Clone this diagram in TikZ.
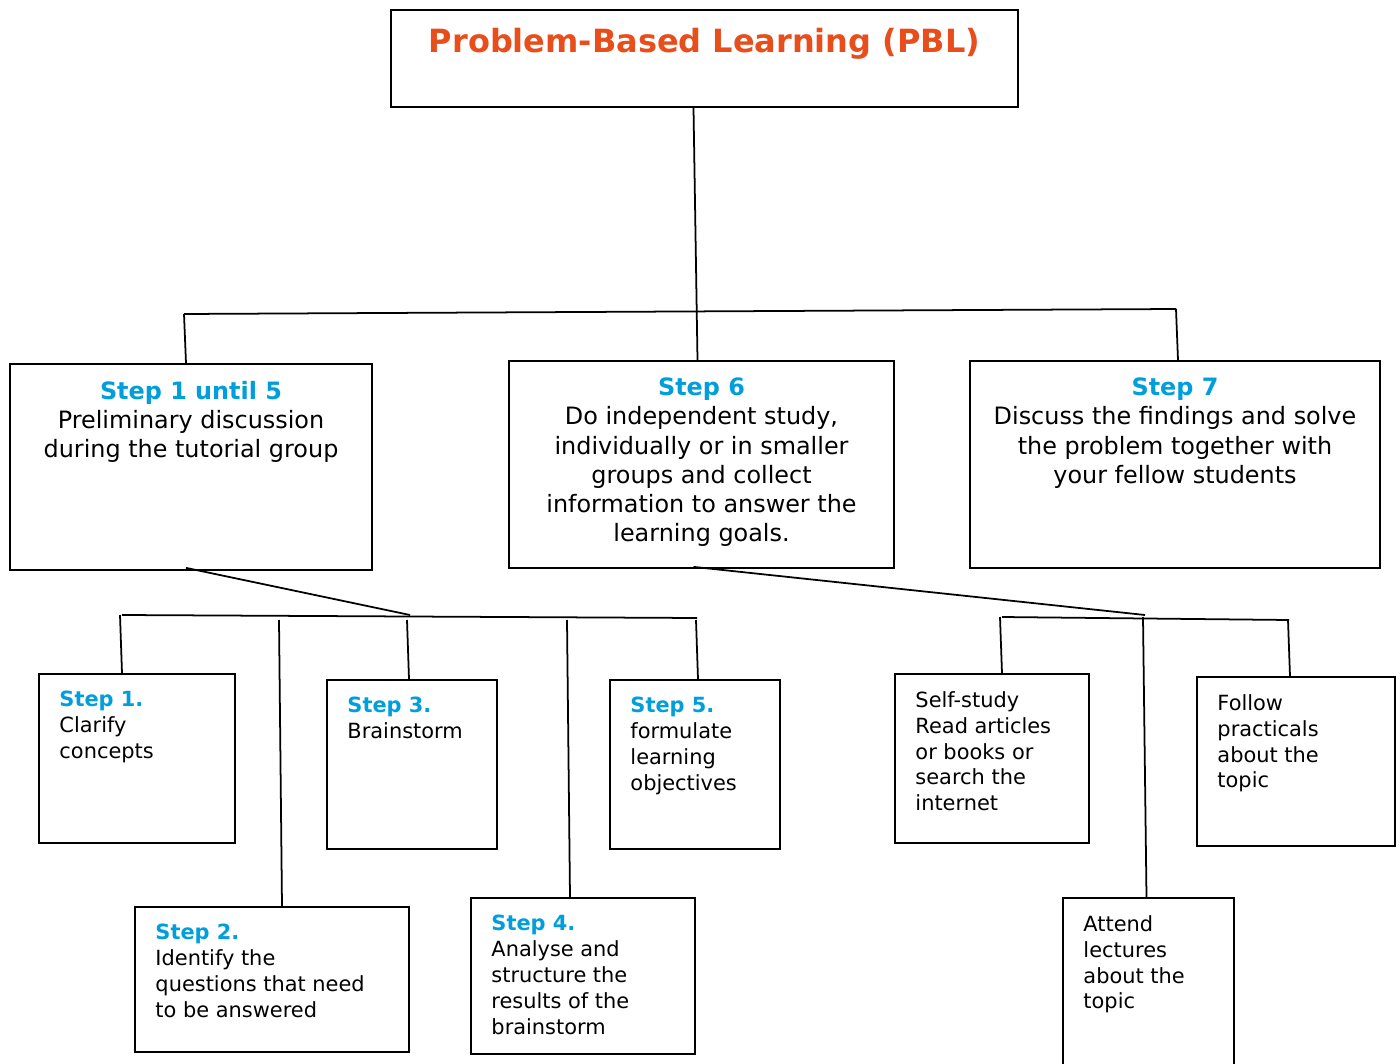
\documentclass[tikz,border=0pt]{standalone}
\usepackage{fontspec}
\setmainfont{DejaVu Sans}
\usetikzlibrary{fit}
\definecolor{pblorange}{RGB}{232,78,27}
\definecolor{stepblue}{RGB}{0,158,219}
\tikzset{
	box/.style={draw=black, line width=1pt, inner sep=0pt},
	link/.style={line width=1pt},
	titletxt/.style={inner sep=0pt, text=pblorange, font=\fontsize{18.2}{21}\selectfont\bfseries},
	bigtxt/.style={inner sep=0pt, align=center, font=\fontsize{13.6}{16.6}\selectfont},
	smalltxt/.style={inner sep=0pt, align=left, font=\fontsize{11.9}{14.7}\selectfont},
}
\newcommand{\stepname}[1]{\textcolor{stepblue}{\bfseries #1}}

\begin{document}
\begin{tikzpicture}[x=0.02cm, y=-0.02cm]
		%%%%% START %%%%%
		\useasboundingbox (0,0) rectangle (1400,1064);
		\clip (0,0) rectangle (1400,1064);
		
		% top
		\node[box, fit={(391,10) (1018,107)}] (pbl) {};
		\node[titletxt, anchor=north] (pbltitle) at ([shift={(0,19)}]pbl.north) {Problem-Based Learning (PBL)};
		
		% three main steps
		\node[box, fit={(10,364) (372,570)}] (s15) {};
		\node[bigtxt, anchor=north] (s15txt) at ([shift={(0,17.5)}]s15.north) {\stepname{Step 1 until 5}\\Preliminary discussion\\during the tutorial group};
		
		\node[box, fit={(509,361) (894,568)}] (s6) {};
		\node[bigtxt, anchor=north] (s6txt) at ([shift={(0,17.5)}]s6.north) {\stepname{Step 6}\\Do independent study,\\individually or in smaller\\groups and collect\\information to answer the\\learning goals.};
		
		\node[box, fit={(970,361) (1380,568)}] (s7) {};
		\node[bigtxt, anchor=north] (s7txt) at ([shift={(0,17.5)}]s7.north) {\stepname{Step 7}\\Discuss the findings and solve\\the problem together with\\your fellow students};
		
		% steps 1 to 5
		\node[box, fit={(39,674) (235,843)}] (st1) {};
		\node[smalltxt, anchor=north west] (st1txt) at ([shift={(21,18)}]st1.north west) {\stepname{Step 1.}\\Clarify\\concepts};
		
		\node[box, fit={(135,907) (409,1052)}] (st2) {};
		\node[smalltxt, anchor=north west] (st2txt) at ([shift={(21,18)}]st2.north west) {\stepname{Step 2.}\\Identify the\\questions that need\\to be answered};
		
		\node[box, fit={(327,680) (497,849)}] (st3) {};
		\node[smalltxt, anchor=north west] (st3txt) at ([shift={(21,18)}]st3.north west) {\stepname{Step 3.}\\Brainstorm};
		
		\node[box, fit={(471,898) (695,1054)}] (st4) {};
		\node[smalltxt, anchor=north west] (st4txt) at ([shift={(21,18)}]st4.north west) {\stepname{Step 4.}\\Analyse and\\structure the\\results of the\\brainstorm};
		
		\node[box, fit={(610,680) (780,849)}] (st5) {};
		\node[smalltxt, anchor=north west] (st5txt) at ([shift={(21,18)}]st5.north west) {\stepname{Step 5.}\\formulate\\learning\\objectives};
		
		% self study
		\node[box, fit={(895,674) (1089,843)}] (self) {};
		\node[smalltxt, anchor=north west] (selftxt) at ([shift={(21,18)}]self.north west) {Self-study\\Read articles\\or books or\\search the\\internet};
		
		\node[box, fit={(1063,898) (1234,1090)}] (lect) {};
		\node[smalltxt, anchor=north west] (lecttxt) at ([shift={(21,18)}]lect.north west) {Attend\\lectures\\about the\\topic};
		
		\node[box, fit={(1197,677) (1395,846)}] (prac) {};
		\node[smalltxt, anchor=north west] (practxt) at ([shift={(21,18)}]prac.north west) {Follow\\practicals\\about the\\topic};
		
		% connectors, level 1
		\coordinate (barL) at (184,314);
		\coordinate (barR) at (1176,309);
		\draw[link] ([shift={(-11,0)}]pbl.south) -- ([shift={(-4,0)}]s6.north);
		\draw[link] (barL) -- (barR);
		\draw[link] (barL) -- ([shift={(-5,0)}]s15.north);
		\draw[link] (barR) -- ([shift={(3,0)}]s7.north);
		
		% connectors, steps 1 to 5
		\coordinate (joinA) at (410,615);
		\coordinate (barAL) at (122,615);
		\coordinate (barAR) at (697,618);
		\draw[link] ([shift={(-5,-3)}]s15.south) -- (joinA);
		\draw[link] (barAL) -- (barAR);
		\draw[link] (120,615) -- ([shift={(-15,0)}]st1.north);
		\draw[link] (279,620) -- ([shift={(10,0)}]st2.north);
		\draw[link] (407,620) -- ([shift={(-3,0)}]st3.north);
		\draw[link] (567,620) -- ([shift={(-13,0)}]st4.north);
		\draw[link] (696,620) -- ([shift={(3,0)}]st5.north);
		
		% connectors, self study
		\coordinate (joinB) at (1145,615);
		\coordinate (barBL) at (1002,617);
		\coordinate (barBR) at (1289,620);
		\draw[link] ([shift={(-8,-2)}]s6.south) -- (joinB);
		\draw[link] (barBL) -- (barBR);
		\draw[link] (1000,617) -- ([shift={(10,0)}]self.north);
		\draw[link] (1143,617) -- ([shift={(-2,0)}]lect.north);
		\draw[link] (1288,620) -- ([shift={(-6,0)}]prac.north);
		
		%%%%% END %%%%%
\end{tikzpicture}
\end{document}
